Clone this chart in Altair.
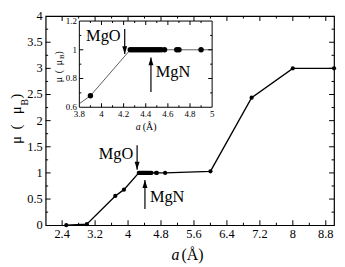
import altair as alt
import pandas as pd

# ---------------- data ----------------
a_main = [2.5, 3.0, 3.69, 3.9, 4.26, 4.28, 4.30, 4.32, 4.34, 4.36, 4.38, 4.40, 4.42, 4.44,
          4.46, 4.48, 4.50, 4.52, 4.54, 4.57, 4.68, 4.70, 4.9, 6.0, 7.0, 8.0, 9.0]
mu_main = [0.0, 0.02, 0.56, 0.68, 1.0, 1.0, 1.0, 1.0, 1.0, 1.0, 1.0, 1.0, 1.0, 1.0,
           1.0, 1.0, 1.0, 1.0, 1.0, 1.0, 1.0, 1.0, 1.0, 1.03, 2.44, 3.0, 3.0]

# inset: where the line enters/leaves the inset frame
inset_edge_a = [3.8, 5.0]
inset_edge_mu = [0.625, 1.0]

# main axes
main_x_domain = [2.0, 9.0]
main_y_domain = [0.0, 4.0]
main_x_labels = [2.4, 3.2, 4.0, 4.8, 5.6, 6.4, 7.2, 8.0, 8.8]
main_x_label_text = ["2.4", "3.2", "4", "4.8", "5.6", "6.4", "7.2", "8", "8.8"]
main_x_minor = [2.8, 3.6, 4.4, 5.2, 6.0, 6.8, 7.6, 8.4]
main_y_labels = [0, 0.5, 1, 1.5, 2, 2.5, 3, 3.5, 4]
main_y_label_text = ["0", "0.5", "1", "1.5", "2", "2.5", "3", "3.5", "4"]
main_y_major = [0.5, 1, 1.5, 2, 2.5, 3, 3.5]
main_y_minor = [0.25, 0.75, 1.25, 1.75, 2.25, 2.75, 3.25, 3.75]

# inset axes
in_x_domain = [3.8, 5.0]
in_y_domain = [0.6, 1.2]
in_x_labels = [3.8, 4.0, 4.2, 4.4, 4.6, 4.8, 5.0]
in_x_label_text = ["3.8", "4", "4.2", "4.4", "4.6", "4.8", "5"]
in_x_major = [4.0, 4.2, 4.4, 4.6, 4.8]
in_x_minor = [3.9, 4.1, 4.3, 4.5, 4.7, 4.9]
in_y_labels = [0.6, 0.8, 1.0, 1.2]
in_y_label_text = ["0.6", "0.8", "1", "1.2"]
in_y_major = [0.8, 1.0]
in_y_minor = [0.7, 0.9, 1.1]

# annotations (data coordinates)
main_mgo_arrow = {"x": [4.22], "base": [1.53], "tip": [1.06]}
main_mgo_text = {"x": [4.128], "y": [1.26], "t": ["MgO"]}
main_mgn_arrow = {"x": [4.41], "base": [0.31], "tip": [0.865]}
main_mgn_text = {"x": [4.53], "y": [0.45], "t": ["MgN"]}
in_mgo_arrow = {"x": [4.21], "base": [1.145], "tip": [0.97]}
in_mgo_text = {"x": [4.173], "y": [1.062], "t": ["MgO"]}
in_mgn_arrow = {"x": [4.447], "base": [0.706], "tip": [0.947]}
in_mgn_text = {"x": [4.49], "y": [0.809], "t": ["MgN"]}

SERIF = "Liberation Serif"
W, H = 291, 211

xs_main = alt.Scale(domain=main_x_domain, nice=False, zero=False)
ys_main = alt.Scale(domain=main_y_domain, nice=False, zero=False)
xs_in = alt.Scale(domain=in_x_domain, range=[34, 168], nice=False, zero=False)
ys_in = alt.Scale(domain=in_y_domain, range=[92, 5], nice=False, zero=False)

main_df = pd.DataFrame({"a": a_main, "mu": mu_main})
in_pts = main_df[(main_df.a >= in_x_domain[0]) & (main_df.a <= in_x_domain[1])]
in_line = pd.concat([in_pts, pd.DataFrame({"a": inset_edge_a, "mu": inset_edge_mu})]).sort_values("a")


def xticks(vals, edge, length, top, xs, ys):
    df = pd.DataFrame({"v": vals, "e": [edge] * len(vals)})
    return alt.Chart(df).mark_tick(
        orient="vertical", size=length, thickness=1, color="black", opacity=1,
        yOffset=(length / 2 if top else -length / 2)
    ).encode(x=alt.X("v:Q", scale=xs, axis=None), y=alt.Y("e:Q", scale=ys, axis=None))


def yticks(vals, edge, length, left, xs, ys):
    df = pd.DataFrame({"v": vals, "e": [edge] * len(vals)})
    return alt.Chart(df).mark_tick(
        orient="horizontal", size=length, thickness=1, color="black", opacity=1,
        xOffset=(length / 2 if left else -length / 2)
    ).encode(x=alt.X("e:Q", scale=xs, axis=None), y=alt.Y("v:Q", scale=ys, axis=None))


def all_ticks(xmaj, xmin, ymaj, ymin, xd, yd, lmaj, lmin, xs, ys):
    out = []
    for vals, ln in ((xmaj, lmaj), (xmin, lmin)):
        out.append(xticks(vals, yd[0], ln, False, xs, ys))
        out.append(xticks(vals, yd[1], ln, True, xs, ys))
    for vals, ln in ((ymaj, lmaj), (ymin, lmin)):
        out.append(yticks(vals, xd[0], ln, True, xs, ys))
        out.append(yticks(vals, xd[1], ln, False, xs, ys))
    return out


def tick_labels(xvals, xtext, yvals, ytext, xd, yd, size, pad, xs, ys):
    xdf = pd.DataFrame({"v": xvals, "t": xtext, "e": [yd[0]] * len(xvals)})
    xl = alt.Chart(xdf).mark_text(font=SERIF, fontSize=size, baseline="top", dy=pad,
                                  color="black").encode(
        x=alt.X("v:Q", scale=xs, axis=None), y=alt.Y("e:Q", scale=ys, axis=None), text="t:N")
    ydf = pd.DataFrame({"v": yvals, "t": ytext, "e": [xd[0]] * len(yvals)})
    yl = alt.Chart(ydf).mark_text(font=SERIF, fontSize=size, align="right", baseline="middle",
                                  dx=-pad, color="black").encode(
        x=alt.X("e:Q", scale=xs, axis=None), y=alt.Y("v:Q", scale=ys, axis=None), text="t:N")
    return [xl, yl]


def arrow(spec, down, length, width, xs, ys, sw):
    df = pd.DataFrame(spec)
    shaft = alt.Chart(df).mark_rule(color="black", strokeWidth=sw).encode(
        x=alt.X("x:Q", scale=xs, axis=None),
        y=alt.Y("base:Q", scale=ys, axis=None), y2="tip:Q")
    hw = width / 2 / length
    if down:
        path = f"M0,0L{-hw},-1L{hw},-1Z"
    else:
        path = f"M0,0L{-hw},1L{hw},1Z"
    head = alt.Chart(df).mark_point(shape=path, filled=True, color="black", opacity=1,
                                     size=(2 * length) ** 2, strokeWidth=0).encode(
        x=alt.X("x:Q", scale=xs, axis=None), y=alt.Y("tip:Q", scale=ys, axis=None))
    return [shaft, head]


def dtext(spec, align, size, xs, ys):
    df = pd.DataFrame(spec)
    return alt.Chart(df).mark_text(align=align, baseline="alphabetic", font=SERIF,
                                   fontSize=size, color="black").encode(
        x=alt.X("x:Q", scale=xs, axis=None), y=alt.Y("y:Q", scale=ys, axis=None), text="t:N")


def ptext(t, x, y, size, angle=0, italic=False, align="center", baseline="middle"):
    df = pd.DataFrame({"t": [t]})
    return alt.Chart(df).mark_text(font=SERIF, fontSize=size, angle=angle, align=align,
                                   baseline=baseline, color="black",
                                   fontStyle=("italic" if italic else "normal")).encode(
        x=alt.value(x), y=alt.value(y), text="t:N")


base = alt.Chart(main_df).encode(
    x=alt.X("a:Q", scale=xs_main, axis=None),
    y=alt.Y("mu:Q", scale=ys_main, axis=None))
main_line = base.mark_line(color="black", strokeWidth=1.4)
main_pts = base.mark_circle(size=18, color="black", opacity=1)

main_layers = [main_line, main_pts]
main_layers += all_ticks(main_x_labels, main_x_minor, main_y_major, main_y_minor,
                         main_x_domain, main_y_domain, 5, 2.5, xs_main, ys_main)
main_layers += tick_labels(main_x_labels, main_x_label_text, main_y_labels, main_y_label_text,
                           main_x_domain, main_y_domain, 12.5, 3, xs_main, ys_main)
main_layers += arrow(main_mgo_arrow, True, 8, 5, xs_main, ys_main, 1.2)
main_layers += arrow(main_mgn_arrow, False, 8, 5, xs_main, ys_main, 1.2)
main_layers.append(dtext(main_mgo_text, "right", 16.5, xs_main, ys_main))
main_layers.append(dtext(main_mgn_text, "left", 16.5, xs_main, ys_main))
# axis titles
main_layers.append(ptext("a", 127, 246, 16, italic=True, align="left", baseline="alphabetic"))
main_layers.append(ptext("(Å)", 137, 246, 16, align="left", baseline="alphabetic"))
for t, yy in (("μ", 125), ("(", 112), ("μ", 95), (")", 81)):
    main_layers.append(ptext(t, -30, yy, 15, angle=270))
main_layers.append(ptext("B", -21, 87, 10, angle=270))
main_chart = alt.layer(*main_layers)

# ---------------- inset ----------------
frame_df = pd.DataFrame({"x": [in_x_domain[0]], "x2": [in_x_domain[1]],
                         "y": [in_y_domain[0]], "y2": [in_y_domain[1]]})
in_frame = alt.Chart(frame_df).mark_rect(fill="white", stroke="black", strokeWidth=1).encode(
    x=alt.X("x:Q", scale=xs_in, axis=None), x2="x2:Q",
    y=alt.Y("y:Q", scale=ys_in, axis=None), y2="y2:Q")
in_l = alt.Chart(in_line).mark_line(color="#333333", strokeWidth=0.8).encode(
    x=alt.X("a:Q", scale=xs_in, axis=None), y=alt.Y("mu:Q", scale=ys_in, axis=None))
in_p = alt.Chart(in_pts).mark_circle(size=30, color="black", opacity=1).encode(
    x=alt.X("a:Q", scale=xs_in, axis=None), y=alt.Y("mu:Q", scale=ys_in, axis=None))

in_layers = [in_frame, in_l, in_p]
in_layers += tick_labels(in_x_labels, in_x_label_text, in_y_labels, in_y_label_text,
                         in_x_domain, in_y_domain, 9, 2.5, xs_in, ys_in)
in_layers += all_ticks(in_x_major, in_x_minor, in_y_major, in_y_minor,
                       in_x_domain, in_y_domain, 4, 2, xs_in, ys_in)
in_layers += arrow(in_mgo_arrow, True, 8, 5, xs_in, ys_in, 1.2)
in_layers += arrow(in_mgn_arrow, False, 8, 5, xs_in, ys_in, 1.2)
in_layers.append(dtext(in_mgo_text, "right", 16.5, xs_in, ys_in))
in_layers.append(dtext(in_mgn_text, "left", 16.5, xs_in, ys_in))
in_layers.append(ptext("a", 91, 115, 10, italic=True, align="left", baseline="alphabetic"))
in_layers.append(ptext("(Å)", 98, 115, 10, align="left", baseline="alphabetic"))
for t, yy in (("μ", 64), ("(", 56), ("μ", 47), (")", 37)):
    in_layers.append(ptext(t, 13, yy, 10, angle=270))
in_layers.append(ptext("B", 17, 41, 7, angle=270))
inset_chart = alt.layer(*in_layers)

chart = alt.layer(main_chart, inset_chart).resolve_scale(
    x="independent", y="independent"
).properties(
    width=W, height=H,
    autosize=alt.AutoSizeParams(type="none"),
    padding={"left": 38, "top": 7, "right": 3, "bottom": 38},
).configure_view(
    stroke="black", strokeWidth=1.2
)

chart.save("out.html", embed_options={"renderer": "svg", "actions": False})
